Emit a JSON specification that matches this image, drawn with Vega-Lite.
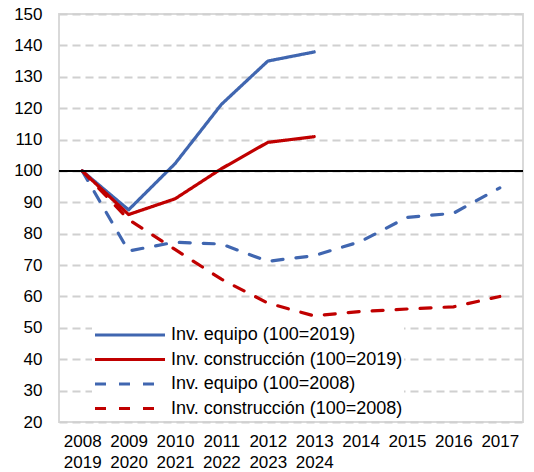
{
  "$schema": "https://vega.github.io/schema/vega-lite/v6.json",
  "width": 464,
  "height": 408,
  "autosize": {"type": "none"},
  "padding": {"left": 59, "top": 14, "right": 11, "bottom": 50},
  "background": "white",
  "config": {
    "font": "Liberation Sans",
    "view": {"stroke": "#d9d9d9", "strokeWidth": 2},
    "axis": {"labelFont": "Liberation Sans", "labelFontSize": 17, "labelColor": "#000000", "domain": false, "ticks": false, "title": null, "labelOverlap": false}
  },
  "data": {
    "values": [
      {"period": "2008|2019", "series": "Inv. equipo (100=2019)", "value": 100},
      {"period": "2009|2020", "series": "Inv. equipo (100=2019)", "value": 87.6},
      {"period": "2010|2021", "series": "Inv. equipo (100=2019)", "value": 102.3},
      {"period": "2011|2022", "series": "Inv. equipo (100=2019)", "value": 121.2},
      {"period": "2012|2023", "series": "Inv. equipo (100=2019)", "value": 135},
      {"period": "2013|2024", "series": "Inv. equipo (100=2019)", "value": 137.9},
      {"period": "2008|2019", "series": "Inv. construcción (100=2019)", "value": 100},
      {"period": "2009|2020", "series": "Inv. construcción (100=2019)", "value": 86.1},
      {"period": "2010|2021", "series": "Inv. construcción (100=2019)", "value": 91.1},
      {"period": "2011|2022", "series": "Inv. construcción (100=2019)", "value": 100.7},
      {"period": "2012|2023", "series": "Inv. construcción (100=2019)", "value": 109.1},
      {"period": "2013|2024", "series": "Inv. construcción (100=2019)", "value": 110.9},
      {"period": "2008|2019", "series": "Inv.  equipo (100=2008)", "value": 100},
      {"period": "2009|2020", "series": "Inv.  equipo (100=2008)", "value": 74.5},
      {"period": "2010|2021", "series": "Inv.  equipo (100=2008)", "value": 77.3},
      {"period": "2011|2022", "series": "Inv.  equipo (100=2008)", "value": 76.7},
      {"period": "2012|2023", "series": "Inv.  equipo (100=2008)", "value": 71.2},
      {"period": "2013|2024", "series": "Inv.  equipo (100=2008)", "value": 73},
      {"period": "2014", "series": "Inv.  equipo (100=2008)", "value": 77.5},
      {"period": "2015", "series": "Inv.  equipo (100=2008)", "value": 85.2},
      {"period": "2016", "series": "Inv.  equipo (100=2008)", "value": 86.5},
      {"period": "2017", "series": "Inv.  equipo (100=2008)", "value": 94.6},
      {"period": "2008|2019", "series": "Inv. construcción (100=2008)", "value": 100},
      {"period": "2009|2020", "series": "Inv. construcción (100=2008)", "value": 84.5},
      {"period": "2010|2021", "series": "Inv. construcción (100=2008)", "value": 75},
      {"period": "2011|2022", "series": "Inv. construcción (100=2008)", "value": 65.5},
      {"period": "2012|2023", "series": "Inv. construcción (100=2008)", "value": 57.9},
      {"period": "2013|2024", "series": "Inv. construcción (100=2008)", "value": 53.8},
      {"period": "2014", "series": "Inv. construcción (100=2008)", "value": 55.2},
      {"period": "2015", "series": "Inv. construcción (100=2008)", "value": 56},
      {"period": "2016", "series": "Inv. construcción (100=2008)", "value": 56.7},
      {"period": "2017", "series": "Inv. construcción (100=2008)", "value": 60}
    ]
  },
  "encoding": {
    "x": {
      "field": "period",
      "type": "ordinal",
      "sort": ["2008|2019", "2009|2020", "2010|2021", "2011|2022", "2012|2023", "2013|2024", "2014", "2015", "2016", "2017"],
      "axis": {"labelAngle": 0, "labelExpr": "split(datum.value, '|')", "labelLineHeight": 21, "labelPadding": 11, "grid": false}
    },
    "y": {
      "field": "value",
      "type": "quantitative",
      "scale": {"domain": [20, 150], "nice": false, "zero": false},
      "axis": {"values": [20, 30, 40, 50, 60, 70, 80, 90, 100, 110, 120, 130, 140, 150], "labelPadding": 17, "grid": true, "gridColor": "#d0d0d0", "gridWidth": 2, "gridDash": [8, 5], "gridOpacity": 1}
    }
  },
  "layer": [
    {
      "mark": {"type": "line", "strokeWidth": 3.2, "strokeCap": "round", "strokeJoin": "round"},
      "encoding": {
        "color": {
          "field": "series",
          "type": "nominal",
          "scale": {
            "domain": ["Inv. equipo (100=2019)", "Inv. construcción (100=2019)", "Inv.  equipo (100=2008)", "Inv. construcción (100=2008)"],
            "range": ["#4066B0", "#C00000", "#4066B0", "#C00000"]
          },
          "legend": {
            "title": null,
            "orient": "none",
            "legendX": 33,
            "legendY": 310,
            "symbolType": "stroke",
            "symbolSize": 4900,
            "symbolStrokeWidth": 3.2,
            "clipHeight": 20,
            "rowPadding": 4.5,
            "padding": 1,
            "fillColor": "white",
            "labelFont": "Liberation Sans",
            "labelFontSize": 18,
            "labelColor": "#000000",
            "labelOffset": 4,
            "labelLimit": 400
          }
        },
        "strokeDash": {
          "field": "series",
          "type": "nominal",
          "scale": {
            "domain": ["Inv. equipo (100=2019)", "Inv. construcción (100=2019)", "Inv.  equipo (100=2008)", "Inv. construcción (100=2008)"],
            "range": [[1, 0], [1, 0], [11, 13], [11, 13]]
          },
          "legend": null
        }
      }
    },
    {
      "mark": {"type": "rule", "color": "#000000", "strokeWidth": 1.5},
      "encoding": {
        "x": null,
        "y": {"datum": 100, "type": "quantitative"}
      }
    }
  ]
}
